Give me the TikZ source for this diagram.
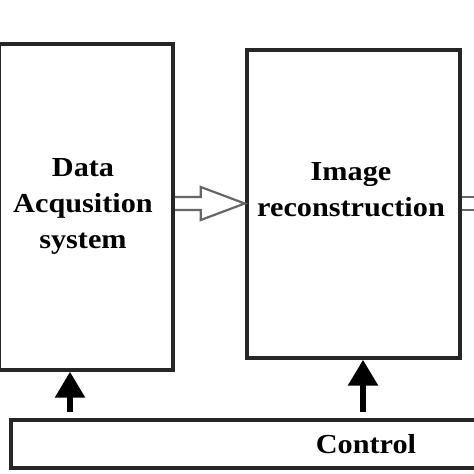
\documentclass[tikz,border=0pt]{standalone}
\usepackage{fontspec}
\setmainfont{Liberation Serif}[FakeStretch=1.1]
\usetikzlibrary{arrows.meta}

\begin{document}
\begin{tikzpicture}[x=1pt,y=1pt,
    block/.style={draw=black!85,line width=3.5pt,inner sep=0pt},
    blocktext/.style={font=\bfseries\fontsize{27.5}{36}\selectfont,align=center},
    uparrow/.style={line width=6pt,-{Triangle[length=26pt,width=29pt]},shorten <=6pt},
    hollow/.style={draw=black!60,line width=2.2pt,line join=miter}]
    \useasboundingbox (0,0) rectangle (474,474);
    \clip (0,0) rectangle (474,474);
    % blocks
    \node[block,minimum width=174,minimum height=326] (acq) at (86,267) {};
    \node[block,minimum width=213,minimum height=308] (recon) at (353.5,270) {};
    \node[block,minimum width=710,minimum height=48] (ctrl) at (366,30) {};
    \node[blocktext] (acqtext) at (83,268) {Data\\Acqusition\\system};
    \node[blocktext] (recontext) at (351,284) {Image\\reconstruction};
    \node[blocktext] (ctrltext) at (ctrl.center) {Control};
    % hollow arrows
    \coordinate (lvl) at (0,270.5);
    \draw[hollow] (acq.east |- lvl) ++(0,6.5) -- ++(26,0) -- ++(0,10)
        -- ++(44,-16.5) -- ++(-44,-16.5) -- ++(0,10) -- ++(-26,0);
    \draw[hollow] (recon.east |- lvl) ++(0,6.5) -- ++(30,0);
    \draw[hollow] (recon.east |- lvl) ++(0,-6.5) -- ++(30,0);
    % control arrows
    \foreach \x/\b in {70/acq,363/recon} {
        \coordinate (c\b) at (\x,0);
        \draw[uparrow] (c\b |- ctrl.north) -- (c\b |- \b.south);
    }
\end{tikzpicture}
\end{document}
